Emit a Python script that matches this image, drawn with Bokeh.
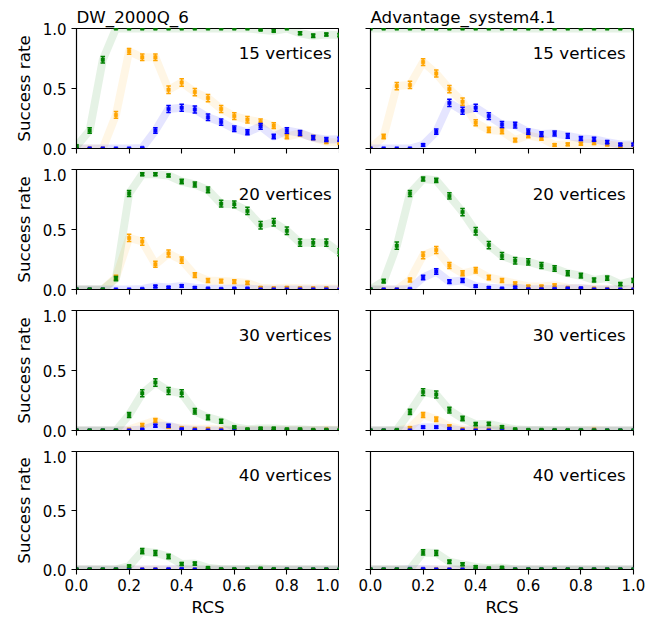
import math
from bokeh.plotting import figure
from bokeh.layouts import gridplot
from bokeh.models import Label, FixedTicker, Range1d, NumeralTickFormatter, CustomJSTickFormatter
from bokeh.embed import file_html
from bokeh.resources import INLINE

# ---------------- data ----------------
rcs = [0.0, 0.05, 0.1, 0.15, 0.2, 0.25, 0.3, 0.35, 0.4, 0.45, 0.5,
       0.55, 0.6, 0.65, 0.7, 0.75, 0.8, 0.85, 0.9, 0.95, 1.0]

devices = ["DW_2000Q_6", "Advantage_system4.1"]
vertex_counts = [15, 20, 30, 40]
series_colors = ["orange", "blue", "green"]
x_ticks = [0.0, 0.2, 0.4, 0.6, 0.8, 1.0]
y_ticks = [0.0, 0.5, 1.0]
n_trials = 1000

# DW_2000Q_6
dw15_green = [0.02, 0.15, 0.74, 1.0, 1.0, 1.0, 1.0, 1.0, 1.0, 1.0, 1.0, 1.0, 1.0, 1.0, 0.99, 0.98, 1.0, 0.96, 0.94, 0.95, 0.945]
dw15_orange = [0, 0, 0, 0.28, 0.81, 0.76, 0.76, 0.49, 0.55, 0.47, 0.42, 0.33, 0.27, 0.24, 0.22, 0.19, 0.10, 0.125, 0.09, 0.055, 0.05]
dw15_blue = [0, 0, 0, 0, 0, 0.005, 0.15, 0.33, 0.34, 0.325, 0.26, 0.22, 0.165, 0.135, 0.185, 0.10, 0.15, 0.13, 0.09, 0.075, 0.078]

dw20_green = [0, 0, 0, 0.09, 0.80, 0.96, 0.96, 0.95, 0.90, 0.875, 0.83, 0.715, 0.71, 0.655, 0.535, 0.56, 0.49, 0.39, 0.39, 0.39, 0.31]
dw20_orange = [0, 0, 0, 0.10, 0.43, 0.40, 0.21, 0.30, 0.245, 0.12, 0.075, 0.07, 0.065, 0.055, 0.015, 0.01, 0.015, 0.01, 0.01, 0.01, 0.005]
dw20_blue = [0, 0, 0, 0, 0, 0.005, 0.025, 0.017, 0.03, 0.015, 0.008, 0.005, 0.008, 0.008, 0, 0, 0, 0, 0, 0, 0]

dw30_green = [0, 0, 0, 0, 0.13, 0.31, 0.40, 0.33, 0.31, 0.16, 0.11, 0.078, 0.028, 0.01, 0.017, 0.017, 0.01, 0.01, 0.005, 0.005, 0.003]
dw30_orange = [0, 0, 0, 0, 0.008, 0.045, 0.083, 0.03, 0.02, 0.014, 0.014, 0.01, 0.005, 0.005, 0.005, 0.005, 0.005, 0.005, 0.005, 0.008, 0.005]
dw30_blue = [0, 0, 0, 0, 0, 0.008, 0.04, 0.04, 0.01, 0.005, 0, 0, 0, 0, 0, 0, 0, 0, 0, 0, 0]

dw40_green = [0, 0, 0, 0, 0.028, 0.155, 0.14, 0.11, 0.047, 0.05, 0.014, 0.003, 0.003, 0.003, 0.008, 0.003, 0, 0, 0, 0, 0]
dw40_orange = [0, 0, 0, 0, 0, 0, 0.002, 0, 0, 0, 0, 0, 0, 0, 0, 0, 0, 0, 0, 0, 0]
dw40_blue = [0, 0, 0, 0, 0, 0, 0, 0.003, 0.004, 0, 0, 0, 0, 0, 0, 0, 0, 0, 0, 0, 0]

# Advantage_system4.1
adv15_green = [1.0, 1.0, 1.0, 1.0, 1.0, 1.0, 1.0, 1.0, 1.0, 1.0, 1.0, 1.0, 1.0, 1.0, 1.0, 1.0, 1.0, 1.0, 1.0, 1.0, 1.0]
adv15_orange = [0, 0.10, 0.52, 0.53, 0.72, 0.625, 0.495, 0.39, 0.215, 0.155, 0.145, 0.07, 0.11, 0.085, 0.03, 0.035, 0.04, 0.047, 0.033, 0.02, 0.028]
adv15_blue = [0, 0, 0, 0, 0.03, 0.14, 0.38, 0.315, 0.34, 0.27, 0.20, 0.195, 0.14, 0.12, 0.125, 0.105, 0.083, 0.078, 0.053, 0.033, 0.033]

adv20_green = [0, 0.07, 0.365, 0.80, 0.92, 0.91, 0.78, 0.645, 0.485, 0.37, 0.28, 0.24, 0.23, 0.20, 0.175, 0.135, 0.115, 0.08, 0.095, 0.045, 0.075]
adv20_orange = [0, 0, 0, 0.08, 0.285, 0.33, 0.20, 0.135, 0.16, 0.10, 0.075, 0.05, 0.025, 0.025, 0.035, 0.015, 0.008, 0.008, 0.005, 0, 0]
adv20_blue = [0, 0, 0, 0.005, 0.10, 0.15, 0.065, 0.075, 0.028, 0.015, 0.008, 0.017, 0.003, 0.003, 0.005, 0.008, 0.01, 0, 0, 0, 0]

adv30_green = [0, 0, 0.005, 0.155, 0.32, 0.30, 0.17, 0.10, 0.053, 0.055, 0.03, 0.01, 0.005, 0.005, 0.003, 0.003, 0.003, 0, 0, 0, 0]
adv30_orange = [0, 0, 0, 0.022, 0.13, 0.094, 0.036, 0.01, 0.01, 0.008, 0.01, 0, 0, 0, 0, 0, 0, 0.008, 0, 0, 0]
adv30_blue = [0, 0, 0, 0, 0.028, 0.028, 0.014, 0, 0, 0, 0, 0, 0, 0, 0, 0, 0, 0, 0, 0, 0]

adv40_green = [0, 0, 0, 0.003, 0.145, 0.14, 0.066, 0.044, 0.022, 0.01, 0.016, 0, 0, 0, 0, 0, 0, 0, 0, 0, 0]
adv40_orange = [0, 0, 0, 0, 0, 0.003, 0, 0, 0, 0, 0, 0, 0, 0, 0, 0, 0, 0, 0, 0, 0]
adv40_blue = [0, 0, 0, 0.005, 0.005, 0, 0, 0, 0, 0, 0, 0, 0, 0, 0, 0, 0, 0, 0, 0, 0]

panels = {
    ("DW_2000Q_6", 15): {"orange": dw15_orange, "blue": dw15_blue, "green": dw15_green},
    ("DW_2000Q_6", 20): {"orange": dw20_orange, "blue": dw20_blue, "green": dw20_green},
    ("DW_2000Q_6", 30): {"orange": dw30_orange, "blue": dw30_blue, "green": dw30_green},
    ("DW_2000Q_6", 40): {"orange": dw40_orange, "blue": dw40_blue, "green": dw40_green},
    ("Advantage_system4.1", 15): {"orange": adv15_orange, "blue": adv15_blue, "green": adv15_green},
    ("Advantage_system4.1", 20): {"orange": adv20_orange, "blue": adv20_blue, "green": adv20_green},
    ("Advantage_system4.1", 30): {"orange": adv30_orange, "blue": adv30_blue, "green": adv30_green},
    ("Advantage_system4.1", 40): {"orange": adv40_orange, "blue": adv40_blue, "green": adv40_green},
}

FONT = "DejaVu Sans"
TICK_FS = "15px"
LABEL_FS = "16.7px"

# figure geometry: (width, min_border_left, min_border_right) per column
col_geom = [(339, 76, 0), (321, 31, 27)]
# (height, min_border_top, min_border_bottom) per row
row_geom = [(168, 28, 20), (141, 1, 20), (141, 1, 20), (169, 1, 47)]


def draw_series(p, y, color):
    err = [1.96 * math.sqrt(max(v * (1 - v), 0) / n_trials) for v in y]
    lo = [v - e for v, e in zip(y, err)]
    hi = [v + e for v, e in zip(y, err)]
    p.line(rcs, y, line_color=color, line_width=8, line_alpha=0.1, line_join="round")
    p.segment(x0=rcs, y0=lo, x1=rcs, y1=hi, line_color=color, line_width=1.5)
    p.scatter(rcs, lo, marker="dash", size=4.5, line_color=color, line_width=1.5)
    p.scatter(rcs, hi, marker="dash", size=4.5, line_color=color, line_width=1.5)
    p.scatter(rcs, y, marker="square", size=3.5, line_color=color, fill_color=color, line_width=0.5)


grid = []
for r, nv in enumerate(vertex_counts):
    row_figs = []
    for c, dev in enumerate(devices):
        w, bl, br = col_geom[c]
        h, bt, bb = row_geom[r]
        p = figure(width=w, height=h, x_range=Range1d(0, 1), y_range=Range1d(0, 1),
                   output_backend="svg", toolbar_location=None,
                   min_border_left=bl, min_border_right=br,
                   min_border_top=bt, min_border_bottom=bb)
        p.xgrid.visible = False
        p.ygrid.visible = False
        p.outline_line_color = "black"
        p.outline_line_alpha = 1.0
        p.outline_line_width = 1.1
        p.background_fill_color = "white"
        p.border_fill_color = "white"

        for ax in (p.xaxis[0], p.yaxis[0]):
            ax.major_tick_out = 5
            ax.major_tick_in = 0
            ax.minor_tick_out = 0
            ax.minor_tick_in = 0
            ax.axis_line_color = "black"
            ax.axis_line_width = 1.1
            ax.major_tick_line_color = "black"
            ax.major_tick_line_width = 1.1
            ax.major_label_text_font = FONT
            ax.major_label_text_font_size = TICK_FS
            ax.major_label_text_color = "black"
            ax.axis_label_text_font = FONT
            ax.axis_label_text_font_size = LABEL_FS
            ax.axis_label_text_font_style = "normal"
            ax.axis_label_text_color = "black"
        p.xaxis.ticker = FixedTicker(ticks=x_ticks)
        p.yaxis.ticker = FixedTicker(ticks=y_ticks)
        p.xaxis.formatter = NumeralTickFormatter(format="0.0")
        p.yaxis.formatter = NumeralTickFormatter(format="0.0")
        p.xaxis.major_label_standoff = 4
        p.yaxis.major_label_standoff = 5

        if r < len(vertex_counts) - 1:
            p.xaxis.formatter = CustomJSTickFormatter(code="return ''")
            p.xaxis.major_label_text_font_size = "0px"
            p.xaxis.major_label_standoff = 0
        else:
            p.xaxis.axis_label = "RCS"
            p.xaxis.axis_label_standoff = 3
        if c > 0:
            p.yaxis.formatter = CustomJSTickFormatter(code="return ''")
            p.yaxis.major_label_text_font_size = "0px"
            p.yaxis.major_label_standoff = 0
        else:
            p.yaxis.axis_label = "Success rate"
            p.yaxis.axis_label_standoff = 6

        if r == 0:
            p.title.text = dev
            p.title.text_font = FONT
            p.title.text_font_size = LABEL_FS
            p.title.text_font_style = "normal"
            p.title.text_color = "black"
            p.title.align = "left"
            p.title.standoff = 3

        data = panels[(dev, nv)]
        for col in series_colors:
            draw_series(p, data[col], col)

        p.add_layout(Label(x=0.97, y=0.80, text=f"{nv} vertices", text_align="right",
                           text_baseline="alphabetic", text_font=FONT,
                           text_font_size=LABEL_FS, text_color="black"))
        row_figs.append(p)
    grid.append(row_figs)

layout = gridplot(grid, toolbar_location=None)
open("out.html", "w").write(file_html(layout, INLINE))
